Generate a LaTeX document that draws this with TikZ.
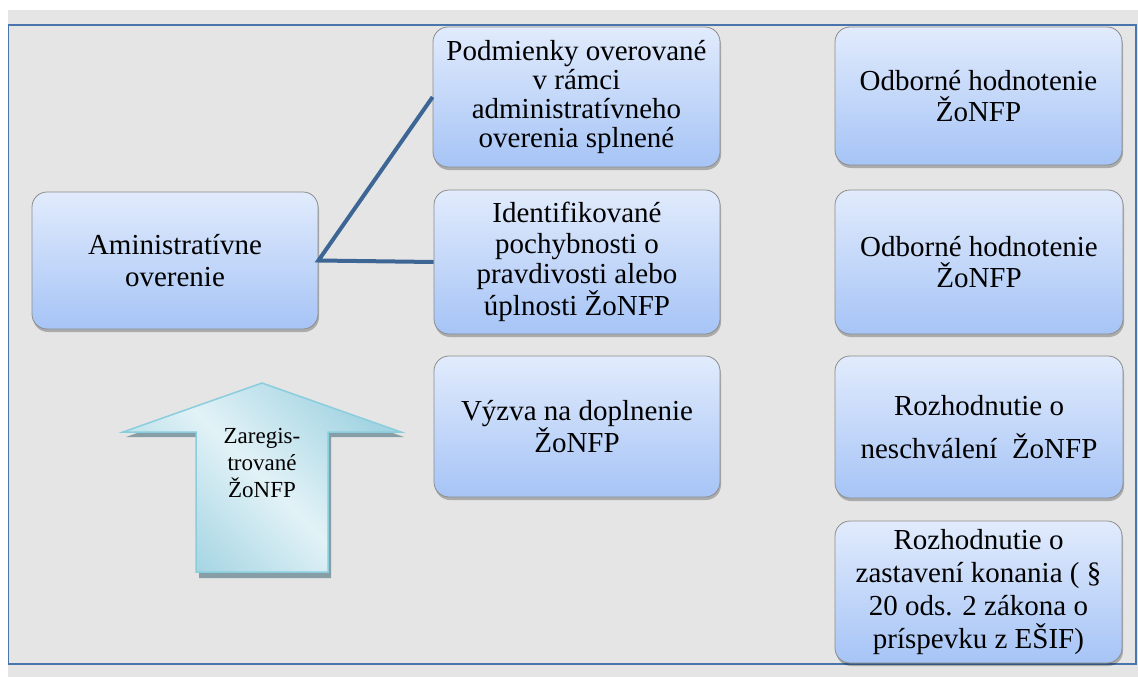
\documentclass[tikz,border=0pt]{standalone}
\usepackage{fontspec}
\setmainfont{Liberation Serif}
\usetikzlibrary{shadows}
\definecolor{bg}{HTML}{E5E5E5}
\definecolor{framec}{HTML}{4A74AC}
\definecolor{conn}{HTML}{3D6695}
\definecolor{boxtop}{HTML}{E1EBFC}
\definecolor{boxbot}{HTML}{A6C4F6}
\definecolor{boxedge}{HTML}{8C8C8C}
\definecolor{arrlight}{HTML}{E2F2F7}
\definecolor{arrdark}{HTML}{A3D4E2}
\definecolor{arredge}{HTML}{8ACDDD}
\definecolor{arrshadow}{HTML}{879EA6}
\begin{document}
\begin{tikzpicture}[x=1pt,y=-1pt,
  procbox/.style={draw=boxedge, line width=0.8pt, rounded corners=15pt,
    top color=boxtop, bottom color=boxbot, align=center, inner sep=0pt,
    drop shadow={shadow xshift=1pt, shadow yshift=-3pt, fill=black, opacity=0.25}},
  fs/.style={font=\fontsize{29}{#1}\selectfont},
  connector/.style={draw=conn, line width=4pt, line join=miter}]
\useasboundingbox (0,0) rectangle (1138,677);
\fill[white] (0,0) rectangle (1138,677);
\fill[bg] (8,10) rectangle (1138,677);
\draw[framec, line width=1.5pt] (8.5,25) rectangle (1136,664);

% arrow
\fill[arrshadow] (265,388) -- (404,437) -- (331,437) -- (331,578) -- (199,578) -- (199,437) -- (126,437) -- cycle;
\draw[arredge, line width=1.5pt, left color=arrdark, right color=arrdark, middle color=arrlight, shading angle=135]
  (262,383) -- (401,432) -- (328,432) -- (328,572) -- (196,572) -- (196,432) -- (123,432) -- cycle;
\node[font=\fontsize{23}{27}\selectfont, align=center] (zt) at (262,463) {Zaregis-\\trované\\ŽoNFP};

% boxes
\node[procbox, fs=32, minimum width=286pt, minimum height=137pt] (ao) at (175,260.5) {Aministratívne\\overenie};
\node[procbox, fs=29, minimum width=287pt, minimum height=140pt] (p1) at (576.5,97) {Podmienky overované\\v rámci\\administratívneho\\overenia splnené};
\node[procbox, fs=30.5, minimum width=286pt, minimum height=144pt] (p2) at (577,262) {Identifikované\\pochybnosti o\\pravdivosti alebo\\úplnosti ŽoNFP};
\node[procbox, fs=29, minimum width=286pt, minimum height=141pt] (p3) at (577,426.5) {Výzva na doplnenie\\ŽoNFP};
\node[procbox, fs=31, minimum width=287pt, minimum height=138pt] (r1) at (978.5,96) {Odborné hodnotenie\\ŽoNFP};
\node[procbox, fs=31, minimum width=288pt, minimum height=144pt] (r2) at (979,262) {Odborné hodnotenie\\ŽoNFP};
\node[procbox, fs=43, minimum width=288pt, minimum height=142pt] (r3) at (979,427) {Rozhodnutie o\\neschválení~ ŽoNFP};
\node[procbox, fs=33, minimum width=287pt, minimum height=142pt] (r4) at (978.5,592) {Rozhodnutie o\\zastavení konania ( §\\20 ods. 2 zákona o\\príspevku z EŠIF)};

% connectors
\draw[connector] (p1.west) -- (ao.east) -- (p2.west);
\end{tikzpicture}
\end{document}
